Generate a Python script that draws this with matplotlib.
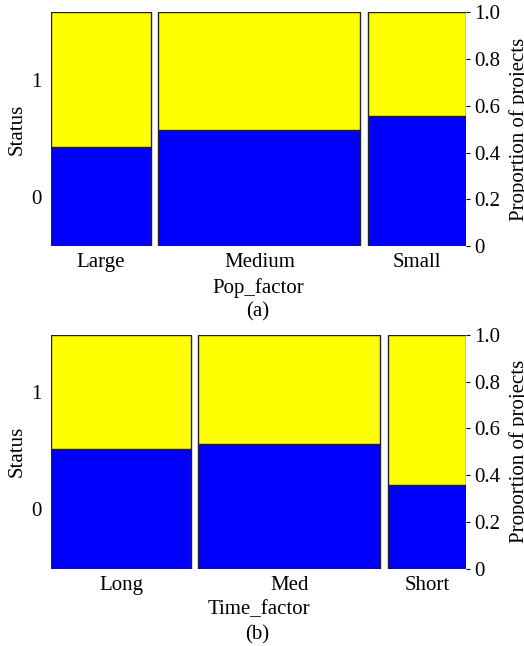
import numpy as np
import matplotlib
matplotlib.use("Agg")
import matplotlib.pyplot as plt

plt.rcParams['font.family'] = ['Liberation Serif', 'DejaVu Serif']
plt.rcParams['font.size'] = 15

# panel (a): Pop_factor
pop_cats = ["Large", "Medium", "Small"]
pop_share = [0.249, 0.506, 0.245]      # column widths (share of projects)
pop_status0 = [0.424, 0.495, 0.558]    # proportion with Status 0

# panel (b): Time_factor
time_cats = ["Long", "Med", "Short"]
time_share = [0.349, 0.456, 0.195]
time_status0 = [0.513, 0.533, 0.359]

status_labels = ["0", "1"]
prop_ticks = [0, 0.2, 0.4, 0.6, 0.8, 1.0]
prop_ticklabels = ["0", "0.2", "0.4", "0.6", "0.8", "1.0"]

blue = "#0000FF"
yellow = "#FFFF00"
gap = 0.019


def spine_panel(ax, cats, share, status0, xlabel):
    share = np.array(share)
    status0 = np.array(status0)
    left = np.concatenate([[0], np.cumsum(share + gap)[:-1]])
    ax.bar(left, status0, width=share, align='edge', color=blue,
           edgecolor='#222222', linewidth=1.0)
    ax.bar(left, 1 - status0, width=share, bottom=status0, align='edge',
           color=yellow, edgecolor='#222222', linewidth=1.0)
    ax.set_xlim(0, share.sum() + gap * (len(share) - 1))
    ax.set_ylim(0, 1)
    for s in ax.spines.values():
        s.set_visible(False)
    ax.set_xticks(left + share / 2)
    ax.set_xticklabels(cats)
    ax.tick_params(axis='x', length=0, pad=5)
    # Status labels sit at the middle of the blocks in the first column
    ax.set_yticks([status0[0] / 2, (1 + status0[0]) / 2])
    ax.set_yticklabels(status_labels)
    ax.tick_params(axis='y', length=0, pad=7)
    ax.set_ylabel("Status")
    ax.yaxis.set_label_coords(-0.059, 0.5)
    ax.set_xlabel(xlabel)
    ax.xaxis.set_label_coords(0.5, -0.135)

    ax2 = ax.twinx()
    ax2.set_ylim(0, 1)
    for s in ax2.spines.values():
        s.set_visible(False)
    ax2.set_yticks(prop_ticks)
    ax2.set_yticklabels(prop_ticklabels)
    ax2.tick_params(axis='y', length=3, width=0.8, pad=3)
    ax2.set_ylabel("Proportion of projects")
    ax2.yaxis.set_label_coords(1.104, 0.5)


fig = plt.figure(figsize=(5.24, 6.46), dpi=100)
ax_a = fig.add_axes([0.098, 0.619, 0.791, 0.362])
ax_b = fig.add_axes([0.098, 0.1197, 0.791, 0.3617])

spine_panel(ax_a, pop_cats, pop_share, pop_status0, "Pop_factor")
spine_panel(ax_b, time_cats, time_share, time_status0, "Time_factor")

fig.text(0.492, 1 - 312 / 646, "(a)", ha='center', va='center')
fig.text(0.49, 1 - 635 / 646, "(b)", ha='center', va='center')

fig.savefig("out.png", dpi=100)
